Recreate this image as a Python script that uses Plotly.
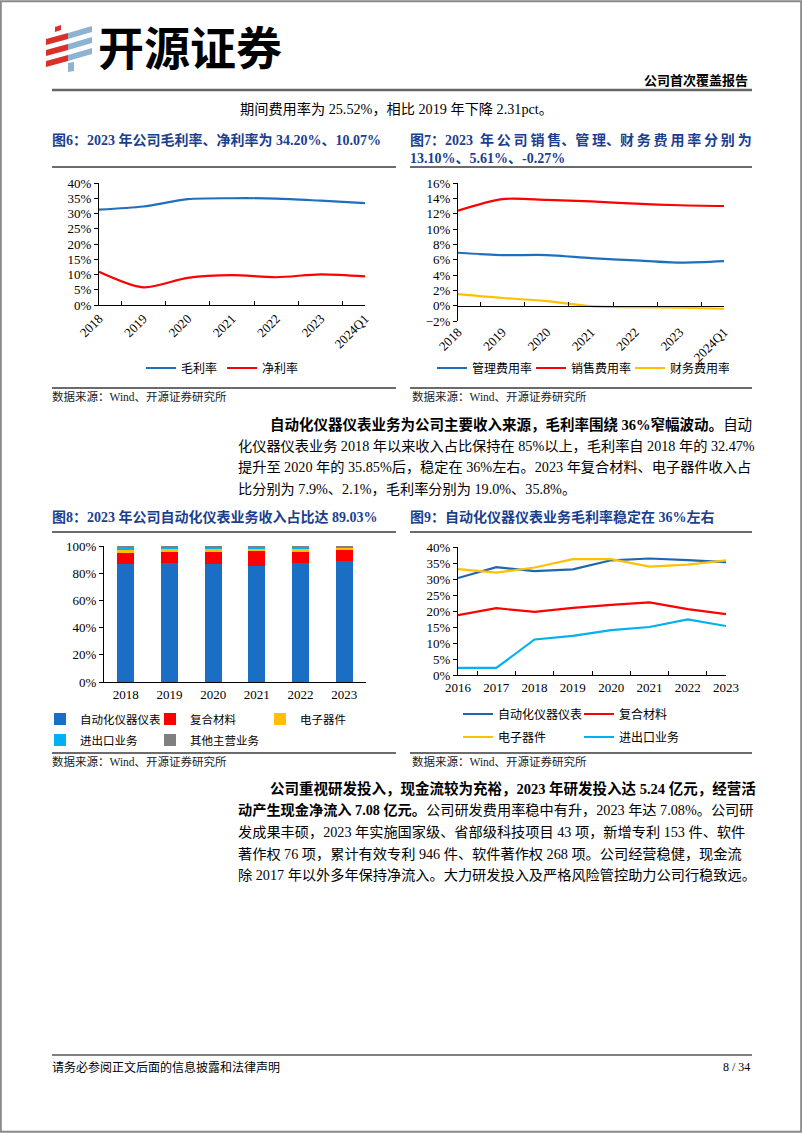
import plotly.graph_objects as go

W, H = 802, 1133

def px(x):
    return x / W

def py(y):
    return 1 - y / H

# --------------------- DATA ---------------------

# fig6 / fig7
years_a = ['2018', '2019', '2020', '2021', '2022', '2023', '2024Q1']
gross_margin = [31.3, 32.3, 34.7, 35.0, 34.9, 34.2, 33.4]
net_margin = [10.9, 5.8, 8.9, 9.8, 9.1, 10.07, 9.4]

admin_rate = [6.9, 6.6, 6.6, 6.2, 5.9, 5.61, 5.8]
sales_rate = [12.4, 13.9, 13.8, 13.6, 13.3, 13.1, 13.0]
fin_rate = [1.5, 1.0, 0.6, -0.05, -0.2, -0.27, -0.4]

# fig8 revenue share (%)
years_b = ['2018', '2019', '2020', '2021', '2022', '2023']
share_auto = [86.8, 87.7, 87.0, 85.3, 87.7, 89.03]
share_comp = [8.1, 7.6, 8.3, 11.0, 8.1, 7.9]
share_elec = [2.5, 2.2, 2.7, 2.2, 2.5, 2.1]
share_trade = [2.1, 1.7, 1.2, 0.8, 1.0, 0.5]
share_other = [0.5, 0.8, 0.8, 0.7, 0.7, 0.47]

# fig9 gross margin by segment (%)
years_c = ['2016', '2017', '2018', '2019', '2020', '2021', '2022', '2023']
gm_auto = [30.3, 33.7, 32.47, 33.0, 35.85, 36.4, 35.9, 35.3]
gm_comp = [18.7, 20.9, 19.7, 21.0, 21.9, 22.7, 20.6, 19.0]
gm_elec = [33.1, 32.0, 33.6, 36.2, 36.2, 33.9, 34.5, 35.8]
gm_trade = [2.2, 2.2, 11.1, 12.2, 14.0, 15.0, 17.4, 15.3]

BLUE = '#1F6FBF'
RED = '#FF0000'
YELLOW = '#FFC000'
CYAN = '#00B0F0'
GRAY = '#7F7F7F'
NAVY = '#1B3F8F'

SERIF = 'Liberation Serif, Noto Sans CJK SC'

fig = go.Figure()

# --------------------- fig6 ---------------------
fig.add_trace(go.Scatter(x=years_a, y=gross_margin, name='毛利率', mode='lines',
                         line=dict(color=BLUE, width=2.2, shape='spline', smoothing=0.8),
                         xaxis='x', yaxis='y', legend='legend'))
fig.add_trace(go.Scatter(x=years_a, y=net_margin, name='净利率', mode='lines',
                         line=dict(color=RED, width=2.2, shape='spline', smoothing=0.8),
                         xaxis='x', yaxis='y', legend='legend'))

# --------------------- fig7 ---------------------
fig.add_trace(go.Scatter(x=years_a, y=admin_rate, name='管理费用率', mode='lines',
                         line=dict(color=BLUE, width=2.2, shape='spline', smoothing=0.8),
                         xaxis='x2', yaxis='y2', legend='legend2'))
fig.add_trace(go.Scatter(x=years_a, y=sales_rate, name='销售费用率', mode='lines',
                         line=dict(color=RED, width=2.2, shape='spline', smoothing=0.8),
                         xaxis='x2', yaxis='y2', legend='legend2'))
fig.add_trace(go.Scatter(x=years_a, y=fin_rate, name='财务费用率', mode='lines',
                         line=dict(color=YELLOW, width=2.2, shape='spline', smoothing=0.8),
                         xaxis='x2', yaxis='y2', legend='legend2'))
# helper trace so the zero-line tick axis gets drawn
fig.add_trace(go.Scatter(x=years_a, y=admin_rate, mode='none', showlegend=False,
                         hoverinfo='skip', xaxis='x5', yaxis='y2'))

# --------------------- fig8 ---------------------
bar_series = [
    ('自动化仪器仪表', share_auto, '#1A6FC4', 'legend3'),
    ('复合材料', share_comp, RED, 'legend3'),
    ('电子器件', share_elec, YELLOW, 'legend3'),
    ('进出口业务', share_trade, CYAN, 'legend5'),
    ('其他主营业务', share_other, GRAY, 'legend5'),
]
for name, vals, col, lg in bar_series:
    fig.add_trace(go.Bar(x=years_b, y=vals, name=name, marker_color=col,
                         marker_line_width=0, xaxis='x3', yaxis='y3', legend=lg))

# --------------------- fig9 ---------------------
line_series = [
    ('自动化仪器仪表', gm_auto, '#1F66B0', 'legend4'),
    ('复合材料', gm_comp, RED, 'legend4'),
    ('电子器件', gm_elec, YELLOW, 'legend6'),
    ('进出口业务', gm_trade, CYAN, 'legend6'),
]
for name, vals, col, lg in line_series:
    fig.add_trace(go.Scatter(x=years_c, y=vals, name=name, mode='lines',
                             line=dict(color=col, width=2.2),
                             xaxis='x4', yaxis='y4', legend=lg))

# --------------------- AXES ---------------------
tick_font = dict(family='Liberation Serif', size=13, color='black')
base_x = dict(type='category', showline=True, linecolor='black', linewidth=1,
              showgrid=False, zeroline=False, tickfont=tick_font, tickcolor='black')
base_y = dict(showline=True, linecolor='black', linewidth=1, showgrid=False,
              zeroline=False, ticks='outside', ticklen=4, tickcolor='black',
              ticksuffix='%', tickfont=tick_font)

fig.update_layout(
    xaxis=dict(base_x, domain=[px(99), px(365)], anchor='y', ticks='inside',
               tickson='boundaries', ticklen=4, tickangle=-45),
    yaxis=dict(base_y, domain=[py(305), py(183)], anchor='x', range=[0, 40], dtick=5),
    xaxis2=dict(base_x, domain=[px(458), px(724)], anchor='y2', showline=False,
                ticks='', tickangle=-45),
    yaxis2=dict(base_y, domain=[py(321), py(183)], anchor='x2', range=[-2, 16], dtick=2),
    # axis line with ticks sitting on the 0% level of fig7
    xaxis5=dict(base_x, overlaying='x2', anchor='free', position=py(305.7),
                ticks='inside', tickson='boundaries', ticklen=4, showticklabels=False,
                categoryarray=years_a, categoryorder='array'),
    xaxis3=dict(base_x, domain=[px(104), px(366)], anchor='y3', ticks=''),
    yaxis3=dict(base_y, domain=[py(682), py(546)], anchor='x3', range=[0, 100], dtick=20),
    xaxis4=dict(base_x, domain=[px(458), px(726)], anchor='y4', ticks='inside',
                tickson='boundaries', ticklen=4),
    yaxis4=dict(base_y, domain=[py(675), py(547)], anchor='x4', range=[0, 40], dtick=5),
    barmode='stack',
    bargap=0.61,
)

# --------------------- LEGENDS ---------------------
def legend_at(x, y, ew, size=12):
    return dict(x=px(x), y=py(y), xanchor='left', yanchor='middle', orientation='h',
                font=dict(family='Noto Sans CJK SC', size=size, color='black'),
                itemwidth=30, entrywidth=ew, entrywidthmode='pixels',
                bgcolor='rgba(0,0,0,0)', traceorder='normal', itemclick=False,
                tracegroupgap=0)

fig.update_layout(
    legend=legend_at(141, 368, 36),
    legend2=legend_at(432, 368, 54),
    legend3=legend_at(40, 719, 65, 11.5),
    legend5=legend_at(40, 740, 65, 11.5),
    legend4=legend_at(458, 714, 76),
    legend6=legend_at(458, 737, 76),
)

# --------------------- PAGE DECORATION ---------------------
shapes = []

def hline(y, x0, x1, width=1.5, color='#3a3a3a'):
    shapes.append(dict(type='line', xref='paper', yref='paper', x0=px(x0), x1=px(x1),
                       y0=py(y), y1=py(y), line=dict(color=color, width=width)))

hline(90, 52, 752, 2.5, '#666666')
hline(167, 52, 396)
hline(167, 410, 752)
hline(388, 52, 396)
hline(388, 410, 752)
hline(532, 52, 396)
hline(532, 410, 752)
hline(753, 52, 396)
hline(753, 410, 752)
hline(1055, 52, 752, 1.5, '#555555')

# page frame
shapes.append(dict(type='rect', xref='paper', yref='paper', x0=0.001, x1=0.999,
                   y0=0.001, y1=0.999, line=dict(color='#8a8a8a', width=2)))

# logo stripes
def stripe(x0, y0, w, rise, thick, color):
    pts = [(x0, y0), (x0 + w, y0 - rise), (x0 + w, y0 - rise - thick), (x0, y0 - thick)]
    path = 'M ' + ' L '.join('%.5f,%.5f' % (px(a), py(b)) for a, b in pts) + ' Z'
    shapes.append(dict(type='path', xref='paper', yref='paper', path=path,
                       fillcolor=color, line=dict(width=0)))

for y0 in [45, 56, 67]:
    stripe(46, y0, 22, 6, 6, '#D9302A')
stripe(55, 32, 6, 2, 5, '#D9302A')
for y0 in [39, 50, 61]:
    stripe(68, y0, 24, 7, 6, '#8DB3D3')
stripe(68, 72, 6, 1, 9, '#8DB3D3')

fig.update_layout(shapes=shapes)

# --------------------- TEXT ---------------------
anns = []

def text(x, y, s, size=14.2, color='black', anchor='left', family=SERIF):
    anns.append(dict(x=px(x), y=py(y), xref='paper', yref='paper', text=s,
                     showarrow=False, xanchor=anchor, yanchor='middle',
                     font=dict(family=family, size=size, color=color)))

# fig7 title is justified in the original, spread it out with thin spaces
TS = '\u2009'
fig7_head = ''
head = '年公司销售、管理、财务费用率分别为'
for i, ch in enumerate(head):
    fig7_head += ch
    if i < len(head) - 1 and ch != '、' and head[i + 1] != '、':
        fig7_head += TS

text(96, 45, '<b>开源证券</b>', size=46, family='Noto Sans CJK SC')
text(750, 80, '<b>公司首次覆盖报告</b>', size=13, anchor='right')
text(238, 109, '期间费用率为 25.52%，相比 2019 年下降 2.31pct。')

text(50, 140, '<b>图6：2023 年公司毛利率、净利率为 34.20%、10.07%</b>', size=14, color=NAVY)
text(408, 140, '<b>图7：2023  ' + fig7_head + '</b>', size=14, color=NAVY)
text(408, 158, '<b>13.10%、5.61%、-0.27%</b>', size=14, color=NAVY)

text(50, 396, '数据来源：Wind、开源证券研究所', size=11.5, color='#222222')
text(410, 396, '数据来源：Wind、开源证券研究所', size=11.5, color='#222222')

text(268, 424, '<b>自动化仪器仪表业务为公司主要收入来源，毛利率围绕 36%窄幅波动。</b>自动',
     size=14.5)
text(236, 446, '化仪器仪表业务 2018 年以来收入占比保持在 85%以上，毛利率自 2018 年的 32.47%')
text(236, 467, '提升至 2020 年的 35.85%后，稳定在 36%左右。2023 年复合材料、电子器件收入占')
text(236, 489, '比分别为 7.9%、2.1%，毛利率分别为 19.0%、35.8%。')

text(50, 517, '<b>图8：2023 年公司自动化仪表业务收入占比达 89.03%</b>', size=14, color=NAVY)
text(408, 517, '<b>图9：自动化仪器仪表业务毛利率稳定在 36%左右</b>', size=14, color=NAVY)

text(50, 761, '数据来源：Wind、开源证券研究所', size=11.5, color='#222222')
text(410, 761, '数据来源：Wind、开源证券研究所', size=11.5, color='#222222')

text(268, 788, '<b>公司重视研发投入，现金流较为充裕，2023 年研发投入达 5.24 亿元，经营活</b>',
     size=14.5)
text(236, 810, '<b>动产生现金净流入 7.08 亿元。</b>公司研发费用率稳中有升，2023 年达 7.08%。公司研')
text(236, 832, '发成果丰硕，2023 年实施国家级、省部级科技项目 43 项，新增专利 153 件、软件')
text(236, 854, '著作权 76 项，累计有效专利 946 件、软件著作权 268 项。公司经营稳健，现金流')
text(236, 875, '除 2017 年以外多年保持净流入。大力研发投入及严格风险管控助力公司行稳致远。')

text(50, 1067, '请务必参阅正文后面的信息披露和法律声明', size=12)
text(752, 1067, '8 / 34', size=12, anchor='right')

fig.update_layout(
    annotations=anns,
    width=W, height=H,
    margin=dict(l=0, r=0, t=0, b=0, autoexpand=False),
    paper_bgcolor='white', plot_bgcolor='white',
    font=dict(family=SERIF, color='black'),
    hovermode=False,
)

fig.write_html("out.html", config={'displayModeBar': False},
               post_script="document.body.style.margin='0px';")
